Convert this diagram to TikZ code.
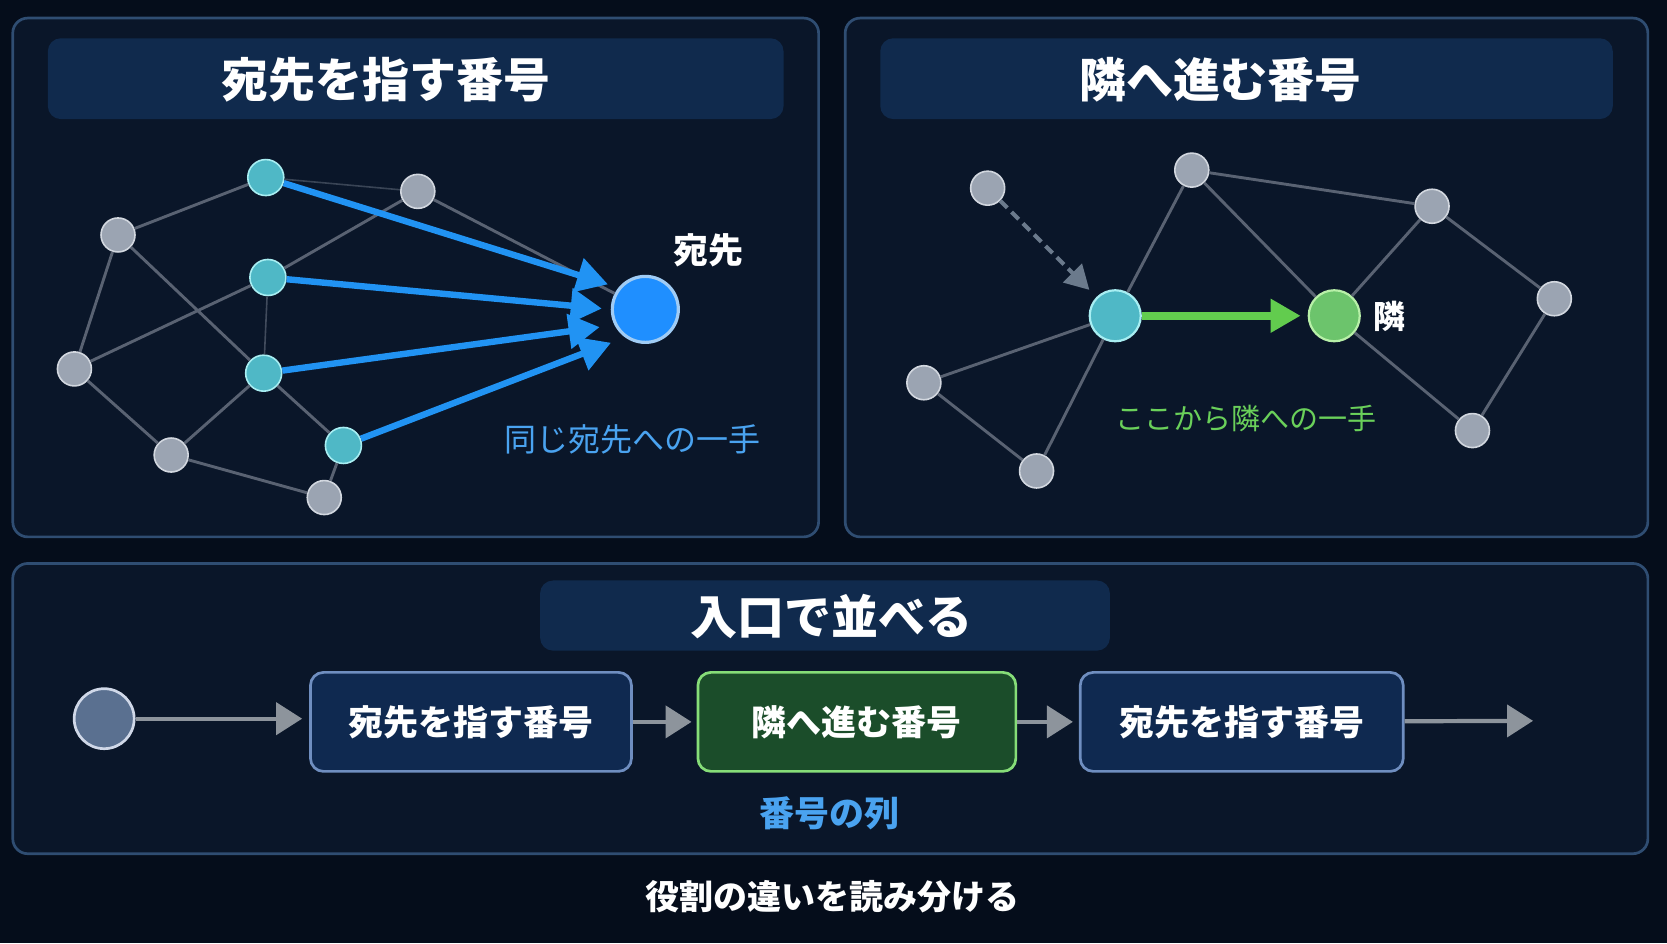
\documentclass[tikz,border=0pt]{standalone}
\usepackage{fontspec}
\setmainfont{Noto Sans CJK JP}
\usetikzlibrary{arrows.meta}
\definecolor{bgc}{HTML}{050D1B}
\definecolor{panelfill}{HTML}{0A1629}
\definecolor{panelline}{HTML}{2F4D72}
\definecolor{titlefill}{HTML}{102A4D}
\definecolor{grayfill}{HTML}{9BA4B2}
\definecolor{grayline}{HTML}{D2D7DF}
\definecolor{tealfill}{HTML}{4FB8C6}
\definecolor{tealline}{HTML}{A8EEF2}
\definecolor{bluefill}{HTML}{1F8FFF}
\definecolor{blueline}{HTML}{A0CCF5}
\definecolor{bluearrow}{HTML}{2193F3}
\definecolor{edgec}{HTML}{596272}
\definecolor{greenarrow}{HTML}{62CC4E}
\definecolor{greenfill}{HTML}{6CC46C}
\definecolor{greenline}{HTML}{B8F0A8}
\definecolor{labelblue}{HTML}{4AA3F0}
\definecolor{labelgreen}{HTML}{6AD05A}
\definecolor{boxfill}{HTML}{0F2950}
\definecolor{boxline}{HTML}{6F8EC0}
\definecolor{gboxfill}{HTML}{1B4D2A}
\definecolor{gboxline}{HTML}{86DD78}
\definecolor{flowc}{HTML}{8D949C}
\definecolor{dashc}{HTML}{6B7A8C}
\definecolor{startfill}{HTML}{5A7090}
\definecolor{startline}{HTML}{D0D8E8}
\tikzset{
  panel/.style={draw=panelline, fill=panelfill, line width=2.7pt, rounded corners=15pt},
  titlebar/.style={fill=titlefill, rounded corners=13pt},
  titletext/.style={text=white, font=\fontsize{47}{52}\selectfont\bfseries},
  gnode/.style={circle, draw=grayline, fill=grayfill, line width=1.6pt, minimum size=34pt, inner sep=0pt},
  tnode/.style={circle, draw=tealline, fill=tealfill, line width=1.6pt, minimum size=36pt, inner sep=0pt},
  edge/.style={draw=edgec, line width=2.9pt},
  bluearr/.style={draw=bluearrow, line width=6.4pt, -{Triangle[length=31pt,width=34pt]}},
  flow/.style={draw=flowc, line width=4.2pt, -{Triangle[length=26pt,width=32pt]}},
  seqbox/.style={rounded corners=13pt, line width=2.7pt, minimum height=99pt, text=white, font=\fontsize{35}{40}\selectfont\bfseries},
}
\begin{document}
\begin{tikzpicture}[x=1.0632pt,y=-1.0632pt]
\useasboundingbox (0,0) rectangle (1568,887);
\fill[bgc] (0,0) rectangle (1568,887);

% panels
\draw[panel] (12,17) rectangle (770,505);
\draw[panel] (795,17) rectangle (1550,505);
\draw[panel] (12,530) rectangle (1550,803);

% title bars
\fill[titlebar] (45,36) rectangle (737,112);
\fill[titlebar] (828,36) rectangle (1517,112);
\fill[titlebar] (508,546) rectangle (1044,612);
\node[titletext] (t1) at (363,75) {宛先を指す番号};
\node[titletext] (t2) at (1148,75) {隣へ進む番号};
\node[titletext] (t3) at (782,580) {入口で並べる};

% ---------- panel 1 ----------
\node[tnode] (A) at (250,167) {};
\node[gnode] (B) at (393,180) {};
\node[gnode] (C) at (111,221) {};
\node[tnode] (D) at (252,261) {};
\node[gnode] (E) at (70,347) {};
\node[tnode] (F) at (248,351) {};
\node[gnode] (G) at (161,428) {};
\node[tnode] (H) at (323,419) {};
\node[gnode] (I) at (305,468) {};
\node[circle, draw=blueline, fill=bluefill, line width=3.2pt, minimum size=66pt, inner sep=0pt] (TG) at (607,291) {};

\draw[edge] (C) -- (A);
\draw[edge] (C) -- (E);
\draw[edge] (C) -- (F);
\draw[edge] (E) -- (D);
\draw[edge] (E) -- (G);
\draw[edge] (G) -- (F);
\draw[edge] (F) -- (H);
\draw[edge] (D) -- (B);
\draw[edge, line width=1.6pt, draw=edgec!70!panelfill] (D) -- (F);
\draw[edge, line width=1.6pt, draw=edgec!60!panelfill] (A) -- (B);
\draw[edge] (B) -- (TG);
\draw[edge] (G) -- (I);
\draw[edge] (H) -- (I);

\draw[bluearr, shorten >=11pt] (A) -- (TG.141);
\draw[bluearr, shorten >=9pt] (D) -- (TG.180);
\draw[bluearr, shorten >=15pt] (F) -- (TG.207);
\draw[bluearr, shorten >=15pt] (H) -- (TG.234);

\node[text=white, font=\fontsize{35}{40}\selectfont\bfseries] (lab1) at (666,235) {宛先};
\node[text=labelblue, font=\fontsize{32}{38}\selectfont] (lab2) at (595,413) {同じ宛先への一手};

% ---------- panel 2 ----------
\node[gnode] (P) at (929,177) {};
\node[gnode] (Q) at (1121,160) {};
\node[gnode] (R) at (1347,194) {};
\node[circle, draw=tealline, fill=tealfill, line width=2.2pt, minimum size=51pt, inner sep=0pt] (S) at (1049,297) {};
\node[circle, draw=greenline, fill=greenfill, line width=2.2pt, minimum size=51pt, inner sep=0pt] (T) at (1255,297) {};
\node[gnode] (U) at (1462,281) {};
\node[gnode] (V) at (869,360) {};
\node[gnode] (W) at (975,443) {};
\node[gnode] (X) at (1385,405) {};

\draw[edge] (Q) -- (S);
\draw[edge] (Q) -- (T);
\draw[edge] (Q) -- (R);
\draw[edge] (R) -- (T);
\draw[edge] (R) -- (U);
\draw[edge] (U) -- (X);
\draw[edge] (T) -- (X);
\draw[edge] (S) -- (V);
\draw[edge] (S) -- (W);
\draw[edge] (V) -- (W);

\draw[draw=dashc, line width=4.2pt, dash pattern=on 10pt off 6pt, -{Triangle[length=24pt,width=26pt]}, shorten >=10pt] (P) -- (S);
\draw[draw=greenarrow, line width=8.5pt, -{Triangle[length=30pt,width=32pt]}, shorten >=7pt] (S) -- (T);

\node[text=white, font=\fontsize{32}{38}\selectfont\bfseries] (lab3) at (1307,298) {隣};
\node[text=labelgreen, font=\fontsize{29}{34}\selectfont] (lab4) at (1172,394) {ここから隣への一手};

% ---------- bottom ----------
\node[circle, draw=startline, fill=startfill, line width=2.7pt, minimum size=60pt, inner sep=0pt] (st) at (98,676) {};
\node[seqbox, draw=boxline, fill=boxfill, minimum width=321pt] (b1) at (443,679) {宛先を指す番号};
\node[seqbox, draw=gboxline, fill=gboxfill, minimum width=318pt] (b2) at (806,679) {隣へ進む番号};
\node[seqbox, draw=boxline, fill=boxfill, minimum width=323pt] (b3) at (1168,679) {宛先を指す番号};
\coordinate (endp) at (1442,678);

\draw[flow, shorten >=7pt] (st) -- (st -| b1.west);
\draw[flow, shorten >=5pt] (b1) -- (b2);
\draw[flow, shorten >=6pt] (b2) -- (b3);
\draw[flow] (b3) -- (endp);

\node[text=labelblue, font=\fontsize{35}{40}\selectfont\bfseries] (lab5) at (780,765) {番号の列};
\node[text=white, font=\fontsize{34}{40}\selectfont\bfseries] (lab6) at (783,843) {役割の違いを読み分ける};
\end{tikzpicture}
\end{document}
